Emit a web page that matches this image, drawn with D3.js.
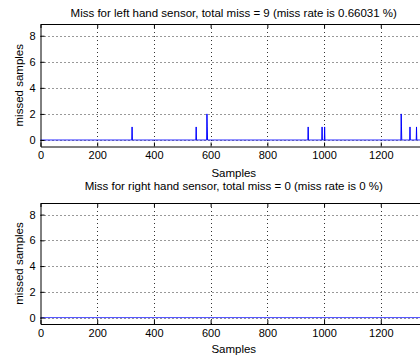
<!DOCTYPE html>
<html>
<head>
<meta charset="utf-8">
<script src="https://cdn.jsdelivr.net/npm/d3@7"></script>
<style>
  html, body { margin: 0; padding: 0; background: #fff; }
  svg { display: block; }
  text { font-family: "Liberation Sans", Arial, sans-serif; fill: #000; }
</style>
</head>
<body>
<svg id="chart" width="420" height="359"></svg>
<script>
// ---- data ----
const nSamples = 1363;
const xTicks = [0, 200, 400, 600, 800, 1000, 1200];
const yTicks = [0, 2, 4, 6, 8];
const leftTitle = "Miss for left hand sensor, total miss = 9 (miss rate is 0.66031 %)";
const rightTitle = "Miss for right hand sensor, total miss = 0 (miss rate is 0 %)";
const xLabel = "Samples";
const yLabel = "missed samples";
// spikes (sample index, missed samples)
const leftSpikeSamples = [323, 549, 587, 588, 944, 993, 1002, 1272, 1273, 1303, 1326];
const leftSpikeValues  = [1,   1,   2,   1,   1,   1,   1,    2,    1,    1,    1];
const rightSpikeSamples = [];
const rightSpikeValues = [];

function buildSeries(samples, values) {
  const s = new Array(nSamples).fill(0);
  samples.forEach((idx, k) => { s[idx] = values[k]; });
  return s;
}
const leftSeries = buildSeries(leftSpikeSamples, leftSpikeValues);
const rightSeries = buildSeries(rightSpikeSamples, rightSpikeValues);

// ---- layout ----
const svg = d3.select("#chart");
svg.append("rect").attr("width", 420).attr("height", 359).attr("fill", "#fff");

const left = 40.5, plotW = 386.5;
const panels = [
  { top: 24, h: 122.5, title: leftTitle, titleY: 16.5, series: leftSeries, xlabY: 177 },
  { top: 203, h: 121, title: rightTitle, titleY: 190, series: rightSeries, xlabY: 352.5 }
];

panels.forEach(p => {
  const x = d3.scaleLinear().domain([0, nSamples]).range([left, left + plotW]);
  const y = d3.scaleLinear().domain([-0.5, 8.9]).range([p.top + p.h, p.top]);
  const g = svg.append("g");

  // grid
  g.append("g").selectAll("line").data(xTicks.filter(t => t > 0)).join("line")
    .attr("x1", d => Math.round(x(d)) + 0.5).attr("x2", d => Math.round(x(d)) + 0.5)
    .attr("y1", p.top).attr("y2", p.top + p.h)
    .attr("stroke", "#333").attr("stroke-width", 1).attr("stroke-dasharray", "1,3");
  g.append("g").selectAll("line").data(yTicks).join("line")
    .attr("x1", left).attr("x2", left + plotW)
    .attr("y1", d => Math.round(y(d)) + 0.5).attr("y2", d => Math.round(y(d)) + 0.5)
    .attr("stroke", "#333").attr("stroke-width", 1).attr("stroke-dasharray", "1,3");

  // data line
  const line = d3.line().x((d, i) => x(i)).y(d => y(d));
  g.append("path").datum(p.series)
    .attr("d", line).attr("fill", "none")
    .attr("stroke", "#0000ff").attr("stroke-width", 1);

  // axes
  const bottom = p.top + p.h;
  const xAxis = g.append("g").attr("transform", `translate(0,${bottom})`)
    .call(d3.axisBottom(x).tickValues(xTicks).tickFormat(d3.format("d"))
      .tickSizeInner(-4).tickSizeOuter(0).tickPadding(5));
  const topAxis = g.append("g").attr("transform", `translate(0,${p.top})`)
    .call(d3.axisTop(x).tickValues(xTicks).tickFormat("")
      .tickSizeInner(-4).tickSizeOuter(0));
  const yAxis = g.append("g").attr("transform", `translate(${left},0)`)
    .call(d3.axisLeft(y).tickValues(yTicks).tickFormat(d3.format("d"))
      .tickSizeInner(-4).tickSizeOuter(0).tickPadding(5));
  const rAxis = g.append("g").attr("transform", `translate(${left + plotW},0)`)
    .call(d3.axisRight(y).tickValues(yTicks).tickFormat("")
      .tickSizeInner(-4).tickSizeOuter(0));
  [xAxis, topAxis, yAxis, rAxis].forEach(a => {
    a.selectAll("path").attr("stroke", "#000").attr("stroke-width", 1);
    a.selectAll("line").attr("stroke", "#000");
    a.selectAll("text").attr("font-size", 11).attr("font-family", '"Liberation Sans", Arial, sans-serif').attr("fill", "#000");
  });

  // title and labels
  const cx = left + plotW / 2;
  g.append("text").attr("x", cx).attr("y", p.titleY).attr("text-anchor", "middle")
    .attr("font-size", 11.5).text(p.title);
  g.append("text").attr("x", cx).attr("y", p.xlabY).attr("text-anchor", "middle")
    .attr("font-size", 11.5).text(xLabel);
  g.append("text").attr("transform", `translate(23,${p.top + p.h / 2}) rotate(-90)`)
    .attr("text-anchor", "middle").attr("font-size", 11.5).text(yLabel);
});
</script>
</body>
</html>
